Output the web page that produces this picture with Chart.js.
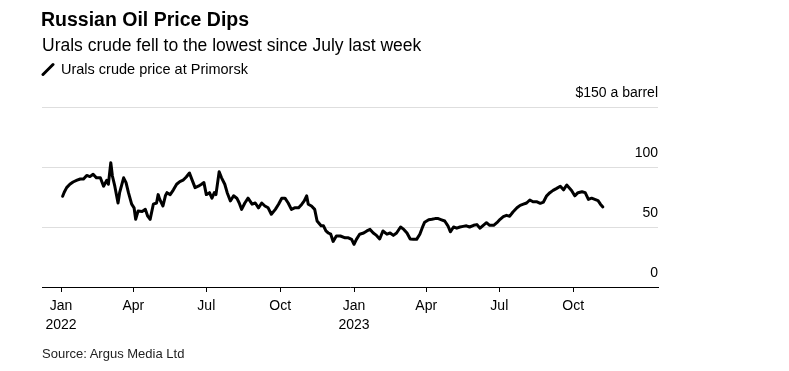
<!DOCTYPE html>
<html>
<head>
<meta charset="utf-8">
<script src="https://cdn.jsdelivr.net/npm/chart.js@4.4.1/dist/chart.umd.min.js"></script>
<style>
  html, body { margin: 0; padding: 0; background: #fff; }
  body { width: 789px; height: 371px; position: relative; overflow: hidden; font-family: "Liberation Sans", Arial, sans-serif; color: #000; }
  .t { position: absolute; white-space: nowrap; line-height: 1; }
  #title { left: 41px; top: 9.5px; font-size: 19.5px; font-weight: bold; }
  #subtitle { left: 42px; top: 36.5px; font-size: 17.5px; }
  #legend { left: 61px; top: 61.5px; font-size: 14.5px; }
  #legicon { position: absolute; left: 41px; top: 62px; }
  #source { left: 42px; top: 346.5px; font-size: 13px; color: #222; }
  #wrap { position: absolute; left: 0; top: 0; width: 789px; height: 371px; }
</style>
</head>
<body>
<div id="wrap"><canvas id="c" width="789" height="371"></canvas></div>
<div class="t" id="title">Russian Oil Price Dips</div>
<div class="t" id="subtitle">Urals crude fell to the lowest since July last week</div>
<svg id="legicon" width="14" height="14"><line x1="2" y1="12.5" x2="12" y2="2.5" stroke="#000" stroke-width="3" stroke-linecap="round"/></svg>
<div class="t" id="legend">Urals crude price at Primorsk</div>
<div class="t" id="source">Source: Argus Media Ltd</div>
<script>
const dates = [
 "2022-01-03","2022-01-05","2022-01-08","2022-01-12","2022-01-16","2022-01-21","2022-01-25","2022-01-29",
 "2022-02-02","2022-02-06","2022-02-10","2022-02-14","2022-02-19","2022-02-23","2022-02-27","2022-03-01",
 "2022-03-04","2022-03-06","2022-03-09","2022-03-13","2022-03-15","2022-03-20","2022-03-23","2022-03-26",
 "2022-03-30","2022-04-02","2022-04-04","2022-04-07","2022-04-12","2022-04-16","2022-04-19","2022-04-22",
 "2022-04-26","2022-04-30","2022-05-02","2022-05-04","2022-05-08","2022-05-11","2022-05-13","2022-05-17",
 "2022-05-21","2022-05-25","2022-05-29","2022-06-02","2022-06-06","2022-06-10","2022-06-13","2022-06-17",
 "2022-06-21","2022-06-25","2022-06-28","2022-07-01","2022-07-05","2022-07-08","2022-07-11","2022-07-13",
 "2022-07-17","2022-07-20","2022-07-24","2022-07-27","2022-07-31","2022-08-04","2022-08-08","2022-08-11",
 "2022-08-14","2022-08-18","2022-08-22","2022-08-27","2022-08-31","2022-09-04","2022-09-08","2022-09-12",
 "2022-09-16","2022-09-20","2022-09-25","2022-09-29","2022-10-03","2022-10-07","2022-10-11","2022-10-15",
 "2022-10-19","2022-10-24","2022-10-28","2022-10-31","2022-11-03","2022-11-05","2022-11-09","2022-11-13",
 "2022-11-16","2022-11-21","2022-11-24","2022-11-27","2022-11-30","2022-12-03","2022-12-06","2022-12-10",
 "2022-12-15","2022-12-21","2022-12-25","2022-12-29","2023-01-01","2023-01-04","2023-01-08","2023-01-13",
 "2023-01-17","2023-01-21","2023-01-25","2023-01-29","2023-02-02","2023-02-06","2023-02-11","2023-02-15",
 "2023-02-19","2023-02-23","2023-02-28","2023-03-04","2023-03-08","2023-03-12","2023-03-16","2023-03-20",
 "2023-03-24","2023-03-28","2023-03-30","2023-04-04","2023-04-08","2023-04-12","2023-04-16","2023-04-20",
 "2023-04-24","2023-04-28","2023-05-01","2023-05-05","2023-05-09","2023-05-13","2023-05-17","2023-05-21",
 "2023-05-25","2023-05-30","2023-06-03","2023-06-07","2023-06-11","2023-06-15","2023-06-19","2023-06-24",
 "2023-06-28","2023-07-02","2023-07-06","2023-07-10","2023-07-14","2023-07-18","2023-07-23","2023-07-27",
 "2023-07-31","2023-08-04","2023-08-08","2023-08-12","2023-08-17","2023-08-21","2023-08-25","2023-08-29",
 "2023-09-02","2023-09-06","2023-09-10","2023-09-15","2023-09-19","2023-09-23","2023-09-26","2023-09-29",
 "2023-10-03","2023-10-07","2023-10-12","2023-10-16","2023-10-20","2023-10-24","2023-10-28","2023-11-01",
 "2023-11-04","2023-11-07"
];
const prices = [
 75.6,79,82.8,85.6,87.5,89,90,90,
 93,92,94,91,91,84,89,85.6,
 103.6,92.5,84,70,78.6,91,87,78.6,
 69,66,56.4,63.3,63,64.7,59,56.4,
 69,70,77,73,67.5,76,78.6,77,
 81,85.6,87.8,89,91.7,95,89.7,82.8,
 84,85.6,87,77,78.6,74,78.6,77,
 96,91,85.6,78.6,71.7,76,74,70,
 64.7,70,74,69,70,66,70,67.5,
 66,60.6,64.7,69,74,74,70,64.7,
 66,66,69,71.7,76,69,67.5,64.7,
 55,51,51,46.7,45,44,38,42.5,
 42.5,41,41,39.7,35.6,39.7,44,45,
 46.7,48,45,43,40,46.7,44,45,
 43,45,50,48,45,40,39.7,39.7,
 44,51,54,56,56.4,57,57,56,
 55,51,46,50,49,50,50.5,51,
 50,51.4,52,49,51.4,53.6,51.4,51.4,
 53.6,56.4,58.6,59.7,59,62.5,66,68,
 69,70,72.5,71,71,69.7,70.8,76,
 78.6,80.5,82,84,81,85,82.8,80.5,
 76,78.6,79.4,78.6,73,74,73,72,
 69,66.7
];
const tickDates = ["2022-01-01","2022-04-01","2022-07-01","2022-10-01","2023-01-01","2023-04-01","2023-07-01","2023-10-01"];
const tickLabels = [["Jan","2022"],"Apr","Jul","Oct",["Jan","2023"],"Apr","Jul","Oct"];
const yTicks = [0, 50, 100, 150];
const yTickLabels = ["0", "50", "100", "$150 a barrel"];

const base = Date.UTC(2022, 0, 1);
const dayNum = s => (Date.parse(s + "T00:00:00Z") - base) / 86400000;
const points = dates.map((d, i) => ({ x: dayNum(d), y: prices[i] }));
const tickDays = tickDates.map(dayNum);
const FONT = '"Liberation Sans", Arial, sans-serif';

new Chart(document.getElementById('c'), {
  type: 'line',
  data: { datasets: [{ data: points, borderColor: '#000', borderWidth: 3, pointRadius: 0, tension: 0, borderJoinStyle: 'round', borderCapStyle: 'round', fill: false }] },
  options: {
    responsive: false, animation: false, devicePixelRatio: 1,
    layout: { padding: { left: 42, top: 107, right: 131, bottom: 30 } },
    plugins: { legend: { display: false }, tooltip: { enabled: false } },
    scales: {
      x: {
        type: 'linear', min: -23.7, max: 743.7,
        afterBuildTicks: s => { s.ticks = tickDays.map(v => ({ value: v })); },
        afterFit: s => { s.height = 54; },
        grid: { drawOnChartArea: false, drawTicks: true, tickLength: 5, color: '#000', lineWidth: 1 },
        border: { display: true, color: '#000', width: 1 },
        ticks: { autoSkip: false, maxRotation: 0, padding: 5, color: '#000', font: { family: FONT, size: 14, lineHeight: 1.35 },
          callback: (v, i) => tickLabels[i] }
      },
      y: {
        position: 'right', min: 0, max: 150,
        afterBuildTicks: s => { s.ticks = yTicks.map(v => ({ value: v })); },
        afterFit: s => { s.width = 0; },
        grid: { drawTicks: false, color: c => (c.tick && c.tick.value === 0) ? 'rgba(0,0,0,0)' : '#dedede', lineWidth: 1 },
        border: { display: false },
        ticks: { mirror: true, padding: 0, labelOffset: -14, color: '#000', font: { family: FONT, size: 14 },
          callback: (v, i) => yTickLabels[i] }
      }
    }
  }
});
</script>
</body>
</html>
